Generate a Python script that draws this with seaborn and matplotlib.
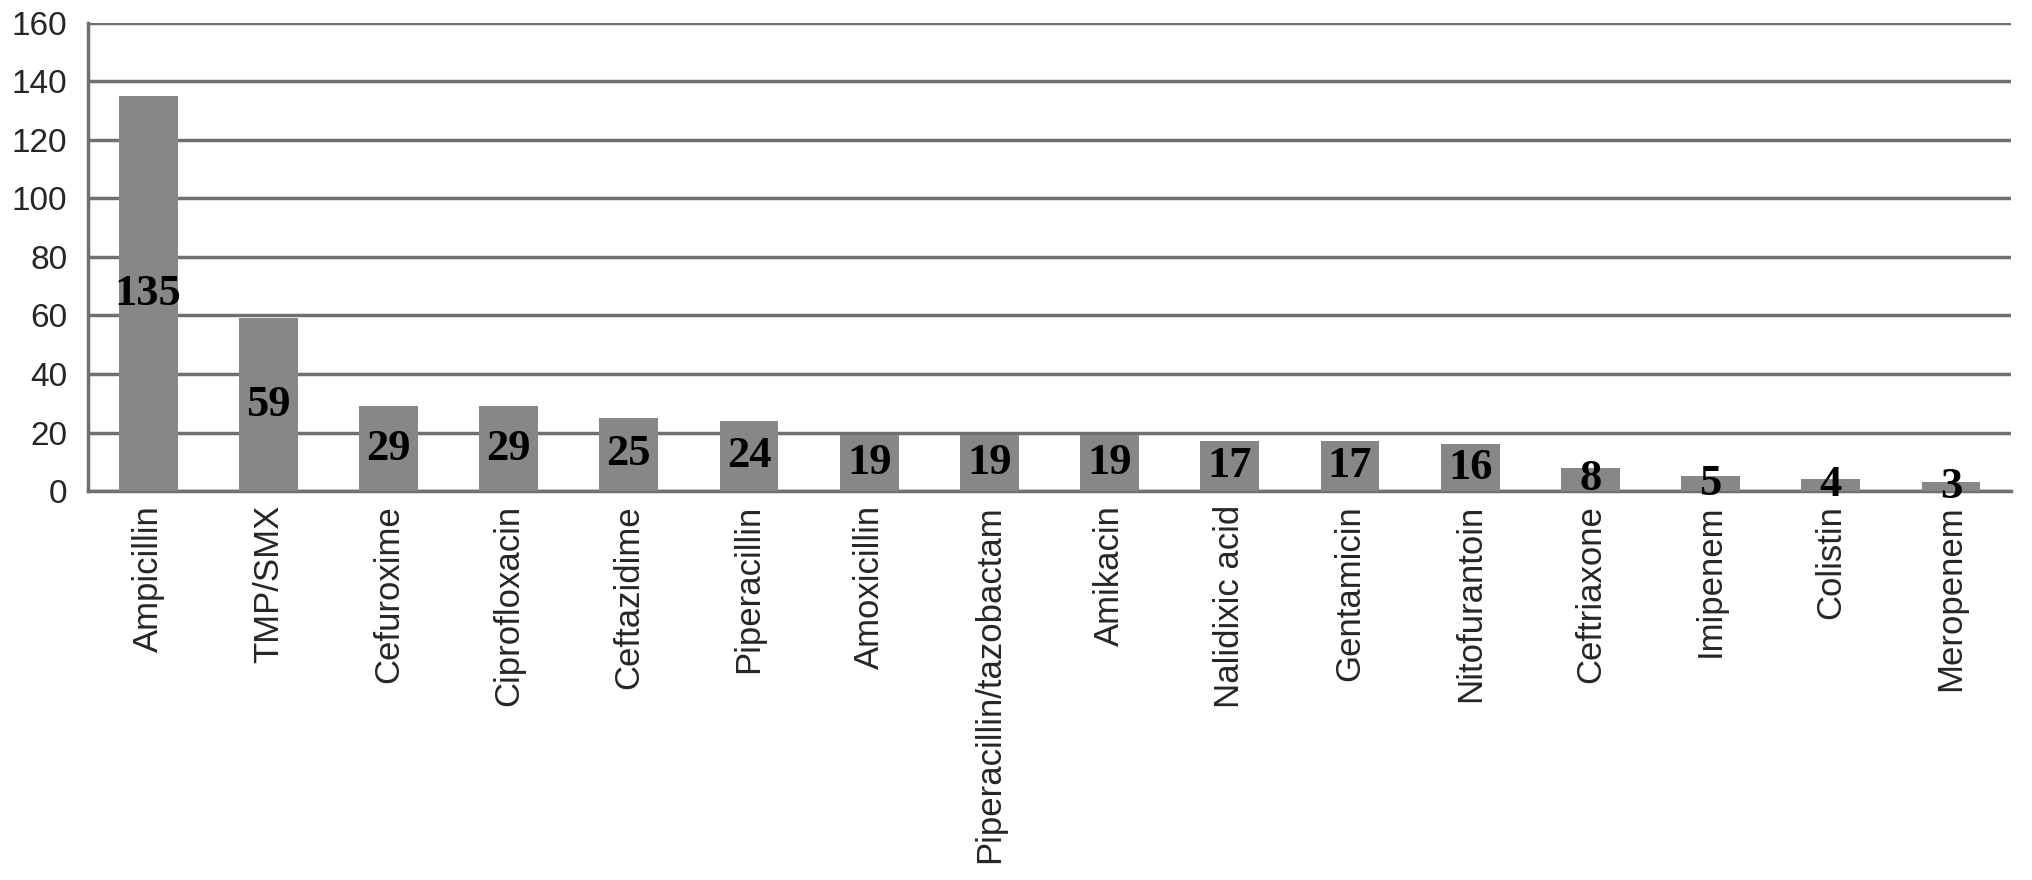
import numpy as np
import pandas as pd
import seaborn as sns
import matplotlib.pyplot as plt

# dados
antibioticos = ['Ampicillin', 'TMP/SMX', 'Cefuroxime', 'Ciprofloxacin', 'Ceftazidime',
                'Piperacillin', 'Amoxicillin', 'Piperacillin/tazobactam', 'Amikacin',
                'Nalidixic acid', 'Gentamicin', 'Nitofurantoin', 'Ceftriaxone',
                'Imipenem', 'Colistin', 'Meropenem']
resistentes = [135, 59, 29, 29, 25, 24, 19, 19, 19, 17, 17, 16, 8, 5, 4, 3]
y_ticks = [0, 20, 40, 60, 80, 100, 120, 140, 160]

df = pd.DataFrame({'Antibiótico': antibioticos, 'Resistentes': resistentes})

sns.set_style('white')
plt.rcParams['font.family'] = ['Liberation Sans', 'DejaVu Sans']

cinza = '#6f6f6f'
fig = plt.figure(figsize=(20.32, 8.8), dpi=100)
ax = fig.add_axes([0.0433, 0.442, 0.9464, 0.532])

sns.barplot(data=df, x='Antibiótico', y='Resistentes', color='#878787',
            width=0.49, saturation=1, linewidth=0, ax=ax, zorder=3)

# rótulos centralizados dentro das barras
for i, v in enumerate(df['Resistentes']):
    ax.text(i, v / 2, str(v), ha='center', va='center', fontsize=32,
            fontweight='bold', family='Liberation Serif', color='black', zorder=4)

ax.set_ylim(0, 160)
ax.set_yticks(y_ticks)
ax.set_xlim(-0.5, len(antibioticos) - 0.5)
ax.yaxis.grid(True, color=cinza, linewidth=2.5, zorder=0)
ax.set_axisbelow(True)

ax.set_xlabel('')
ax.set_ylabel('')
ax.tick_params(axis='y', labelsize=24, length=11, width=2.5, color=cinza, pad=4)
ax.tick_params(axis='x', which='major', labelsize=25, length=0, pad=10)
ax.set_xticks(np.arange(-0.5, len(antibioticos)), minor=True)
ax.tick_params(axis='x', which='minor', length=13, width=2.5, color=cinza)
plt.setp(ax.get_xticklabels(), rotation=90, va='top', ha='center')

for s in ['top', 'right']:
    ax.spines[s].set_visible(False)
for s in ['left', 'bottom']:
    ax.spines[s].set_color(cinza)
    ax.spines[s].set_linewidth(2.5)

fig.savefig('out.png', dpi=100, facecolor='white')
